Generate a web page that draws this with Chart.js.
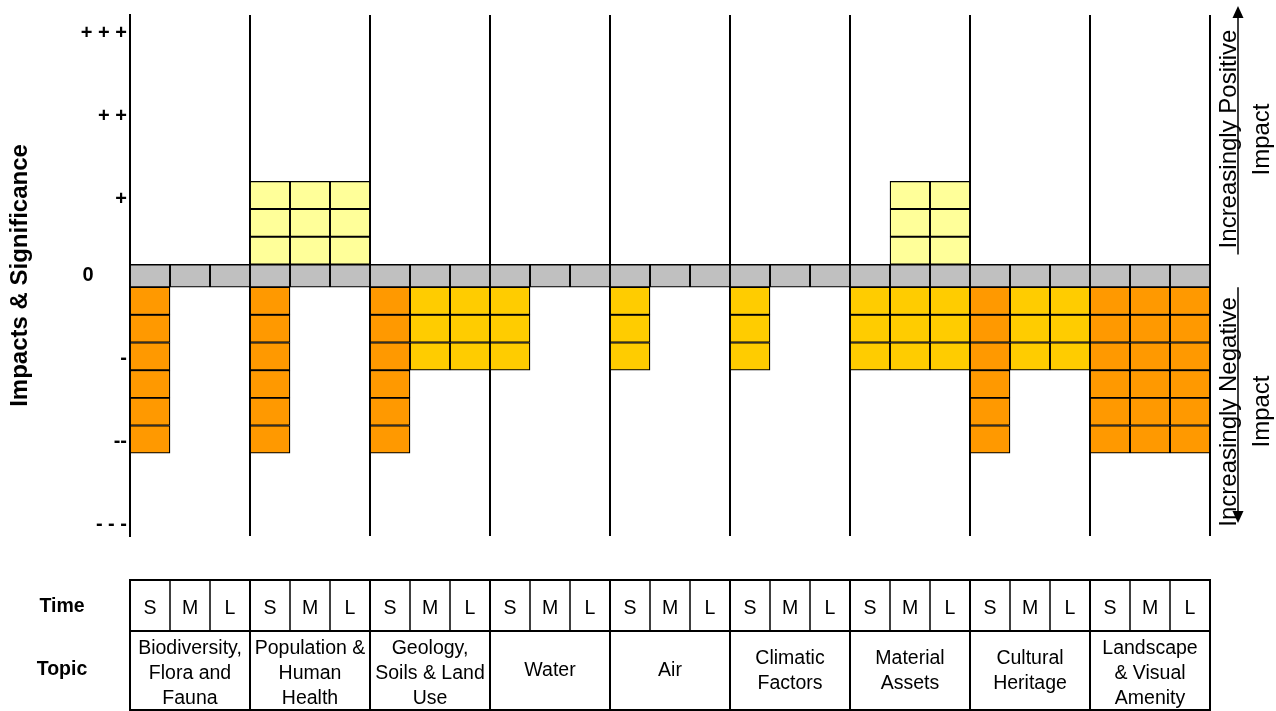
<!DOCTYPE html>
<html>
<head>
<meta charset="utf-8">
<script src="https://cdn.jsdelivr.net/npm/chart.js@4.4.1/dist/chart.umd.min.js"></script>
<style>
  html, body { margin: 0; padding: 0; background: #ffffff; }
  #wrap { position: relative; width: 1276px; height: 711px; }
</style>
</head>
<body>
<div id="wrap"><canvas id="c" width="1276" height="711"></canvas></div>
<script>
// ---------- data ----------
const topics = [
  ['Biodiversity,', 'Flora and', 'Fauna'],
  ['Population &', 'Human', 'Health'],
  ['Geology,', 'Soils & Land', 'Use'],
  ['Water'],
  ['Air'],
  ['Climatic', 'Factors'],
  ['Material', 'Assets'],
  ['Cultural', 'Heritage'],
  ['Landscape', '& Visual', 'Amenity']
];
const times = ['S', 'M', 'L'];
// number of positive impact cells per column (S, M, L for each topic)
const positive = [0, 0, 0,  3, 3, 3,  0, 0, 0,  0, 0, 0,  0, 0, 0,  0, 0, 0,  0, 3, 3,  0, 0, 0,  0, 0, 0];
// number of negative impact cells per column
const negative = [6, 0, 0,  6, 0, 0,  6, 3, 3,  3, 0, 0,  3, 0, 0,  3, 0, 0,  3, 3, 3,  6, 3, 3,  6, 6, 6];
const yTickValues = [-9, -6, -3, 0, 2.77, 5.77, 8.77];
const yTickLabels = ['- - -', '--', '-', '0      ', '+', '+ +', '+ + +'];
const yTitle = 'Impacts & Significance';
const rowLabels = ['Time', 'Topic'];
const upperNote = ['Increasingly Positive', 'Impact'];
const lowerNote = ['Increasingly Negative', 'Impact'];

// ---------- styling ----------
const FONT = "'Liberation Sans', Arial, Helvetica, sans-serif";
const BAND = 0.41;            // half height of the neutral (0) band, in cell units
const C_BAND = '#C0C0C0';
const C_POS = '#FFFF99';
const C_NEG_MINOR = '#FFCC00';
const C_NEG_MAJOR = '#FF9900';

const labels = [];
topics.forEach(t => times.forEach(s => labels.push(t.join(' ') + ' - ' + s)));

const datasets = [];
datasets.push({
  label: 'Neutral',
  data: positive.map(() => [-BAND, BAND]),
  backgroundColor: C_BAND
});
for (let k = 1; k <= 3; k++) {
  datasets.push({
    label: 'Positive ' + k,
    data: positive.map(p => p >= k ? [BAND + k - 1, BAND + k] : null),
    backgroundColor: C_POS
  });
}
for (let k = 1; k <= 6; k++) {
  datasets.push({
    label: 'Negative ' + k,
    data: negative.map(n => n >= k ? [-BAND - (k - 1), -BAND - k] : null),
    backgroundColor: negative.map(n => n >= 6 ? C_NEG_MAJOR : C_NEG_MINOR)
  });
}
datasets.forEach(d => {
  d.borderColor = '#000000';
  d.borderWidth = 1.3;
  d.borderSkipped = false;
  d.barPercentage = 1;
  d.categoryPercentage = 1;
  d.grouped = false;
});

const annotations = {
  id: 'annotations',
  afterDraw(chart) {
    const ctx = chart.ctx;
    const xs = chart.scales.x, ys = chart.scales.y;
    const area = chart.chartArea;
    const n = labels.length;
    const colW = area.width / n;
    const tTop = 580, tMid = 631, tBot = 710;

    ctx.save();
    ctx.strokeStyle = '#000';
    ctx.fillStyle = '#000';

    // table grid
    ctx.lineWidth = 2;
    [tTop, tMid, tBot].forEach(y => {
      ctx.beginPath(); ctx.moveTo(area.left - 1, y); ctx.lineTo(area.right + 1, y); ctx.stroke();
    });
    for (let i = 0; i <= n; i++) {
      const x = area.left + i * colW;
      const group = i % times.length === 0;
      ctx.lineWidth = group ? 2 : 1.5;
      ctx.beginPath(); ctx.moveTo(x, tTop); ctx.lineTo(x, group ? tBot : tMid); ctx.stroke();
    }

    // table text
    ctx.textAlign = 'center';
    ctx.textBaseline = 'middle';
    ctx.font = '19.5px ' + FONT;
    labels.forEach((_, i) => ctx.fillText(times[i % times.length], xs.getPixelForValue(i), 608.5));
    const lh = 24.8;
    topics.forEach((t, g) => {
      const cx = area.left + (g * times.length + times.length / 2) * colW;
      const cy = (tMid + tBot) / 2 + (t.length >= 3 ? 3 : 0.5);
      t.forEach((line, j) => ctx.fillText(line, cx, cy + (j - (t.length - 1) / 2) * lh));
    });
    ctx.font = 'bold 19.5px ' + FONT;
    ctx.fillText(rowLabels[0], 62, 607);
    ctx.fillText(rowLabels[1], 62, 670);

    // right-hand arrows
    const ax = area.right + 28;
    const zTop = ys.getPixelForValue(BAND), zBot = ys.getPixelForValue(-BAND);
    const upTip = area.top - 9, downTip = ys.getPixelForValue(-9) - 2;
    ctx.lineWidth = 1.5;
    ctx.beginPath(); ctx.moveTo(ax, zTop - 10); ctx.lineTo(ax, upTip + 10); ctx.stroke();
    ctx.beginPath(); ctx.moveTo(ax, upTip); ctx.lineTo(ax - 5.5, upTip + 12); ctx.lineTo(ax + 5.5, upTip + 12); ctx.closePath(); ctx.fill();
    ctx.beginPath(); ctx.moveTo(ax, zBot); ctx.lineTo(ax, downTip - 10); ctx.stroke();
    ctx.beginPath(); ctx.moveTo(ax, downTip); ctx.lineTo(ax - 5.5, downTip - 12); ctx.lineTo(ax + 5.5, downTip - 12); ctx.closePath(); ctx.fill();

    // right-hand rotated notes
    ctx.font = '24px ' + FONT;
    ctx.textBaseline = 'alphabetic';
    const rot = (text, x, y) => {
      ctx.save(); ctx.translate(x, y); ctx.rotate(-Math.PI / 2); ctx.fillText(text, 0, 0); ctx.restore();
    };
    rot(upperNote[0], ax - 1.7, 139);
    rot(upperNote[1], ax + 30.5, 139.5);
    rot(lowerNote[0], ax - 1.7, 412);
    rot(lowerNote[1], ax + 30.5, 411.5);
    ctx.restore();
  }
};

new Chart(document.getElementById('c'), {
  type: 'bar',
  data: { labels, datasets },
  options: {
    responsive: false,
    animation: false,
    layout: { padding: { left: 0, right: 66, top: 15, bottom: 175 } },
    plugins: { legend: { display: false }, tooltip: { enabled: false } },
    scales: {
      x: {
        offset: true,
        ticks: { display: false },
        border: { display: false },
        grid: {
          offset: true,
          drawTicks: false,
          lineWidth: 2,
          color: c => (c.index === undefined || c.index % times.length === 0) ? '#000000' : 'rgba(0,0,0,0)'
        },
        afterFit: s => { s.height = 0; }
      },
      y: {
        min: -9.4,
        max: 9.42,
        grid: { display: false, drawTicks: false },
        border: { display: true, color: '#000000', width: 2 },
        afterBuildTicks: s => { s.ticks = yTickValues.map(v => ({ value: v })); },
        ticks: {
          autoSkip: false,
          padding: 3,
          color: '#000000',
          font: { family: FONT, size: 20, weight: 'bold' },
          callback: v => {
            const i = yTickValues.indexOf(v);
            return i >= 0 ? yTickLabels[i] : '';
          }
        },
        title: {
          display: true,
          text: yTitle,
          color: '#000000',
          font: { family: FONT, size: 24, weight: 'bold' },
          padding: { top: 5.6, bottom: 0 }
        },
        afterFit: s => { s.width = 130; }
      }
    }
  },
  plugins: [annotations]
});
</script>
</body>
</html>
